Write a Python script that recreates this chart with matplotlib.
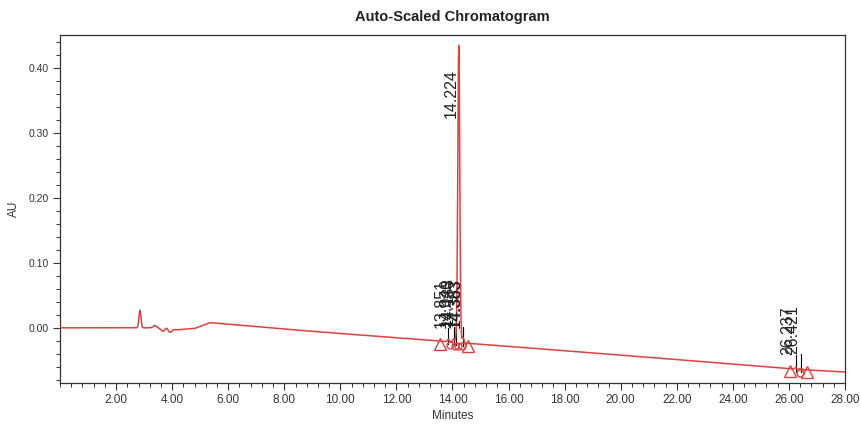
import numpy as np
import matplotlib
matplotlib.use("Agg")
import matplotlib.pyplot as plt
from matplotlib.ticker import MultipleLocator, FixedLocator, FormatStrFormatter

plt.rcParams['font.family'] = ['Liberation Sans', 'DejaVu Sans']

# Baseline knots (minutes, AU)
base_t = [0.0, 2.70, 3.20, 4.20, 4.80, 5.35, 8.56, 14.0, 20.0, 26.3, 28.0]
base_v = [0.0, 0.000, 0.000, -0.003, -0.001, 0.008, -0.004, -0.022, -0.042, -0.064, -0.068]

# Small disturbances (rt, height, width)
bump_rt = [2.85, 3.39, 3.67, 3.80, 3.92]
bump_h = [0.027, 0.004, -0.004, 0.002, -0.005]
bump_w = [0.035, 0.07, 0.06, 0.05, 0.06]

# Integrated peaks (rt, height above baseline, width) and their labels
peak_rt = [13.851, 14.040, 14.133, 14.224, 14.363, 14.383, 26.237, 26.421]
peak_h = [0.004, 0.005, 0.006, 0.458, 0.005, 0.004, 0.002, 0.002]
peak_w = [0.03, 0.03, 0.03, 0.035, 0.03, 0.03, 0.04, 0.04]
peak_labels = ["13.851", "14.040", "14.133", "14.224", "14.363", "14.383", "26.237", "26.421"]
label_base = [-0.001, 0.001, 0.003, 0.323, 0.001, -0.001, -0.042, -0.040]

# Integration markers
tri_t = [13.55, 14.55, 26.03, 26.64]
circ_t = [13.90, 14.08, 14.20, 14.34, 26.40]

t = np.linspace(0, 28, 8000)
y = np.interp(t, base_t, base_v)
for rt, h, w in zip(bump_rt, bump_h, bump_w):
    y += h * np.exp(-0.5 * ((t - rt) / w) ** 2)
for rt, h, w in zip(peak_rt, peak_h, peak_w):
    y += h * np.exp(-0.5 * ((t - rt) / w) ** 2)

red = '#e2403f'
fig = plt.figure(figsize=(8.61, 4.30), dpi=100)
ax = fig.add_axes([0.0697, 0.1093, 0.9117, 0.8093])
ax.plot(t, y, color=red, lw=1.1, zorder=3)

for rt, lab, lb in zip(peak_rt, peak_labels, label_base):
    b = np.interp(rt, base_t, base_v)
    if lab != "14.224":
        ax.plot([rt, rt], [b - 0.004, lb], color='black', lw=0.8, zorder=2)
    ax.text(rt, lb, lab, rotation=90, ha='right', va='bottom', fontsize=11.5,
            family=['Liberation Sans Narrow', 'Liberation Sans'],
            color='#222222', zorder=4)

tri_b = [np.interp(x, base_t, base_v) for x in tri_t]
circ_b = [np.interp(x, base_t, base_v) for x in circ_t]
ax.plot(tri_t, np.array(tri_b) - 0.004, ls='none', marker='^', ms=8.5, mfc='none',
        mec=red, mew=1.0, zorder=5)
ax.plot(circ_t, np.array(circ_b) - 0.005, ls='none', marker='o', ms=5, mfc='none',
        mec=red, mew=1.0, zorder=5)

ax.set_xlim(0, 28)
ax.set_ylim(-0.085, 0.451)
ax.xaxis.set_major_locator(FixedLocator(np.arange(2, 28.1, 2)))
ax.xaxis.set_minor_locator(MultipleLocator(0.4))
ax.xaxis.set_major_formatter(FormatStrFormatter('%.2f'))
ax.yaxis.set_major_locator(FixedLocator([0.0, 0.1, 0.2, 0.3, 0.4]))
ax.yaxis.set_minor_locator(MultipleLocator(0.02))
ax.yaxis.set_major_formatter(FormatStrFormatter('%.2f'))
ax.tick_params(which='major', length=5, width=0.8, color='#333333', labelcolor='#333333', pad=3)
ax.tick_params(axis='x', which='major', labelsize=8.5)
ax.tick_params(axis='y', which='major', labelsize=7.5)
ax.tick_params(which='minor', length=3, width=0.7, color='#333333')
for s in ax.spines.values():
    s.set_color('#333333')
    s.set_linewidth(0.9)

ax.set_xlabel('Minutes', fontsize=8.5, color='#333333', labelpad=3)
ax.set_ylabel('AU', fontsize=8.5, color='#333333', labelpad=6)
ax.set_title('Auto-Scaled Chromatogram', fontsize=10.5, fontweight='bold', color='#222222', pad=10)

fig.savefig('out.png', dpi=100)
